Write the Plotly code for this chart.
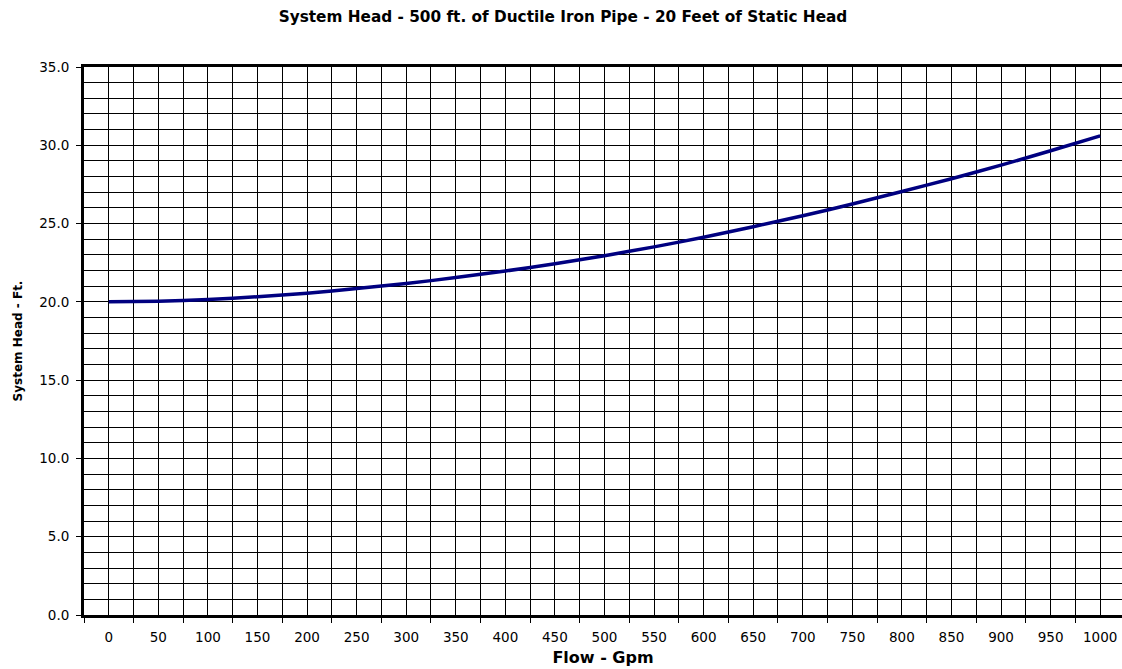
import plotly.graph_objects as go

flow_gpm = [0, 50, 100, 150, 200, 250, 300, 350, 400, 450, 500,
            550, 600, 650, 700, 750, 800, 850, 900, 950, 1000]
system_head_ft = [20.00, 20.04, 20.15, 20.33, 20.55, 20.85, 21.17, 21.55, 21.97, 22.43, 22.95,
                  23.51, 24.13, 24.80, 25.50, 26.25, 27.05, 27.86, 28.73, 29.65, 30.60]
x_tick_labels = [str(v) for v in flow_gpm]
y_tick_values = [0, 5, 10, 15, 20, 25, 30, 35]
category_boundaries = [v - 25 for v in flow_gpm] + [1025]

FONT = "DejaVu Sans, Verdana, sans-serif"

W, H = 1122, 669

fig = go.Figure()
fig.add_trace(go.Scatter(
    x=flow_gpm, y=system_head_ft, mode="lines",
    line=dict(color="#000080", width=3.5, shape="spline", smoothing=0.6),
    showlegend=False, hoverinfo="x+y",
))

fig.update_layout(
    width=W, height=H,
    margin=dict(l=84, r=0, t=67, b=54, autoexpand=False),
    paper_bgcolor="white", plot_bgcolor="white",
    font=dict(family=FONT, size=13, color="black"),
    title=dict(text="<b>System Head - 500 ft. of Ductile Iron Pipe - 20 Feet of Static Head</b>",
               x=563 / W, xanchor="center", y=1 - 16.5 / H, yanchor="middle",
               font=dict(family=FONT, size=15.3, color="black")),
    showlegend=False,
)

fig.update_xaxes(
    type="linear", range=[-25, 1022],
    tickmode="array", tickvals=flow_gpm, ticktext=x_tick_labels,
    ticks="", ticklabelstandoff=8,
    tickfont=dict(family=FONT, size=13.5, color="black"),
    showgrid=True, gridcolor="black", gridwidth=1,
    showline=True, linecolor="black", linewidth=3, mirror=True,
    zeroline=False,
    minor=dict(tickmode="array", tickvals=category_boundaries, ticks="outside",
               ticklen=5, tickcolor="black", tickwidth=1,
               showgrid=True, gridcolor="black", gridwidth=1),
    title=dict(text="<b>Flow - Gpm</b>", font=dict(family=FONT, size=16, color="black"),
               standoff=8),
    automargin=False,
)

fig.update_yaxes(
    range=[0, 35],
    tickmode="array", tickvals=y_tick_values,
    tickformat=".1f",
    ticks="outside", ticklen=5, tickcolor="black", tickwidth=1,
    ticklabelstandoff=4,
    tickfont=dict(family=FONT, size=13.5, color="black"),
    showgrid=True, gridcolor="black", gridwidth=1,
    showline=True, linecolor="black", linewidth=3, mirror=False,
    zeroline=False,
    minor=dict(dtick=1, showgrid=True, gridcolor="black", gridwidth=1, ticks=""),
    title=dict(text="<b>System Head - Ft.</b>", font=dict(family=FONT, size=12, color="black"),
               standoff=15),
    automargin=False,
)

fig.write_html(
    "out.html",
    config={"displayModeBar": False},
    post_script="document.body.style.margin='0';document.documentElement.style.overflow='hidden';",
)
